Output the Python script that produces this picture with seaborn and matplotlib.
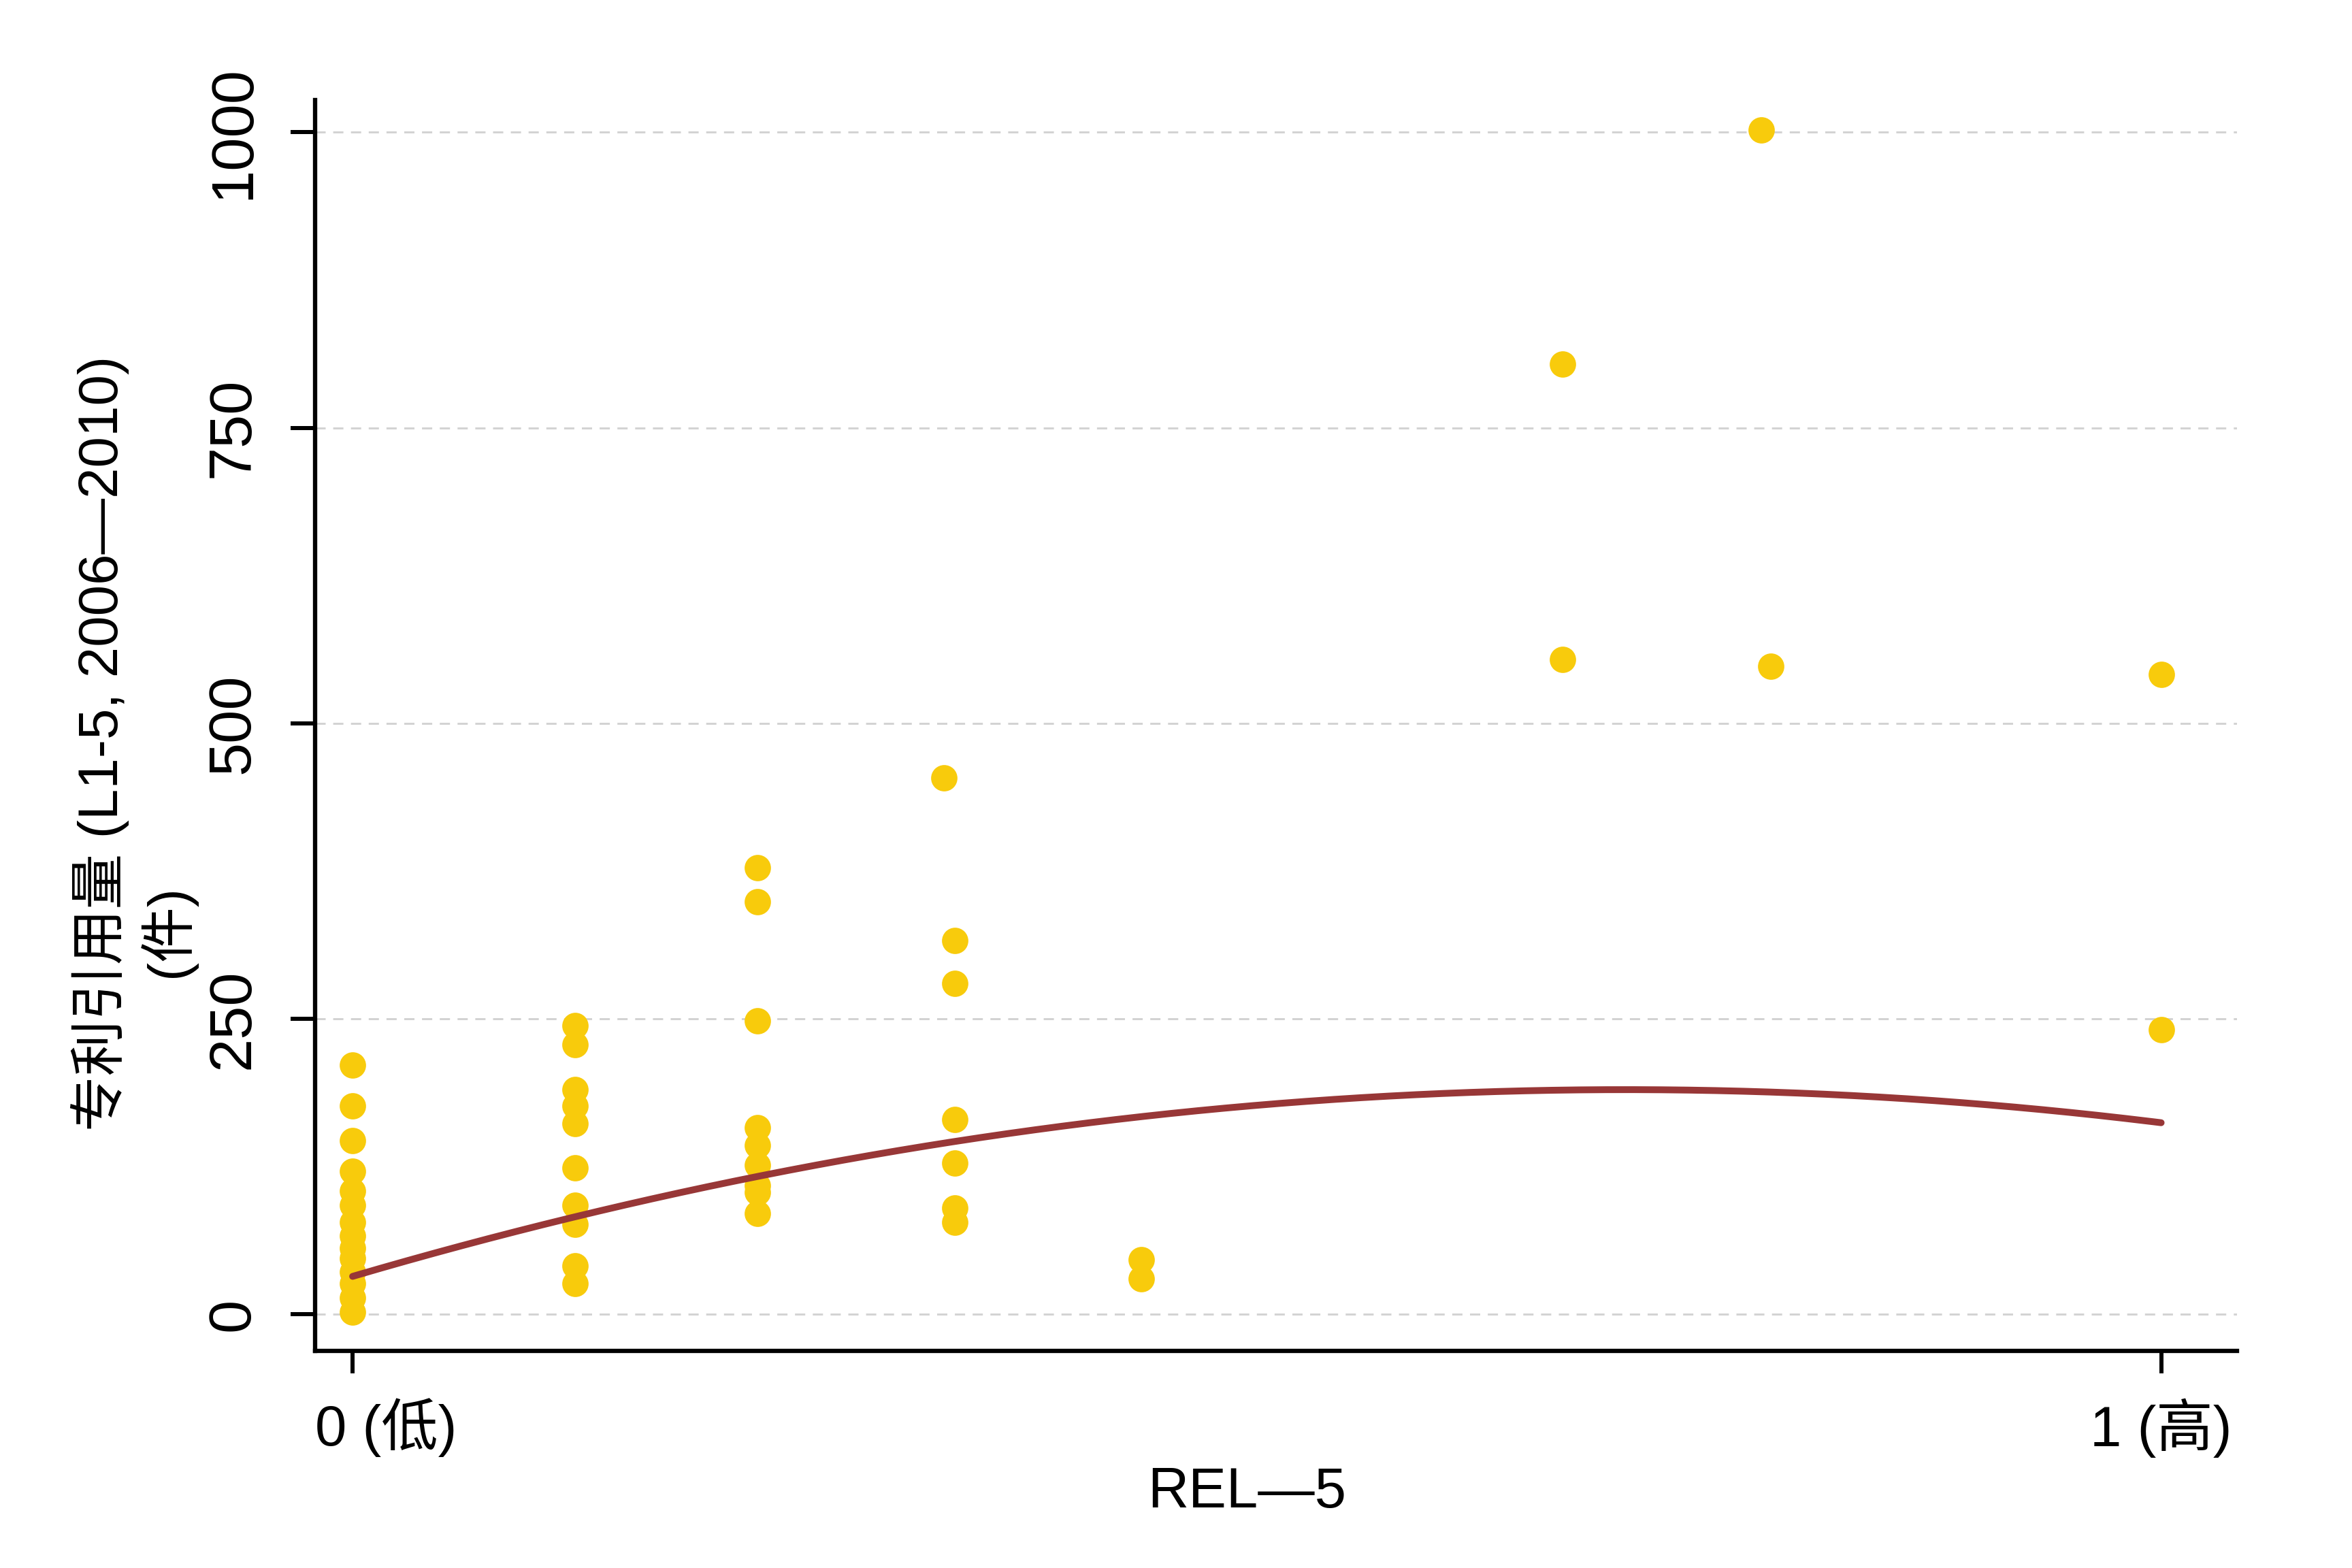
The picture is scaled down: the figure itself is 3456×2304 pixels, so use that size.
import numpy as np
import pandas as pd
import seaborn as sns
import matplotlib.pyplot as plt
import matplotlib.transforms as mtransforms

# REL-5 (0 = low, 1 = high) and patent citations
rel = [0] * 14 + [0.123] * 10 + [0.224] * 9 + [0.327] + [0.333] * 6 \
    + [0.436] * 2 + [0.669] * 2 + [0.779, 0.784] + [1.0] * 2
cites = [211, 176, 147, 121, 104, 92, 78, 66, 56, 47, 36, 26, 14, 2,
         244, 228, 190, 176, 161, 124, 92, 76, 41, 26,
         378, 349, 248, 158, 143, 126, 109, 103, 85,
         454,
         316, 280, 165, 128, 90, 78,
         46, 30,
         804, 554,
         1002, 548,
         541, 241]

# quadratic fit line (intercept, linear, squared), as drawn in the chart
fit_coef = [32, 449, -319]

y_ticks = [0, 250, 500, 750, 1000]
x_ticks = [0, 1]
x_ticklabels = ['0 (低)', '1 (高)']

df = pd.DataFrame({'rel': rel, 'cites': cites})
fit_x = np.linspace(0, 1, 200)
fit = pd.DataFrame({'rel': fit_x,
                    'cites': fit_coef[0] + fit_coef[1] * fit_x + fit_coef[2] * fit_x ** 2})

sns.set_style('white')
plt.rcParams['font.family'] = ['Liberation Sans', 'Noto Sans CJK SC', 'DejaVu Sans']
plt.rcParams['text.color'] = 'black'
plt.rcParams['axes.labelcolor'] = 'black'
plt.rcParams['xtick.color'] = 'black'
plt.rcParams['ytick.color'] = 'black'

fig = plt.figure(figsize=(14.4, 9.6), dpi=240)
ax = fig.add_axes([0.134, 0.1385, 0.817, 0.7975])

sns.scatterplot(data=df, x='rel', y='cites', ax=ax, color='#F8CB0C',
                s=135, linewidth=0, zorder=3)
sns.lineplot(data=fit, x='rel', y='cites', ax=ax, color='#983737',
             linewidth=3.0, zorder=4)

ax.set_xlim(-0.0207, 1.0418)
ax.set_ylim(-31, 1027)

ax.set_yticks(y_ticks)
ax.set_xticks(x_ticks)
ax.set_xticklabels(x_ticklabels)
ax.tick_params(axis='y', labelsize=26.5, length=10.8, width=1.8, pad=13,
               labelrotation=90, left=True)
ax.tick_params(axis='x', labelsize=25, length=9.9, width=1.8, pad=11, bottom=True)
for lab in ax.get_yticklabels():
    lab.set_va('center')

# first x label sits a bit to the right of its tick
off = mtransforms.ScaledTranslation(49 / 240, 0, fig.dpi_scale_trans)
lab0 = ax.get_xticklabels()[0]
lab0.set_transform(lab0.get_transform() + off)

for y in y_ticks:
    ax.axhline(y, color='#d3d3d3', linewidth=0.9, linestyle=(0, (5, 3.7)), zorder=1)

sns.despine(ax=ax)
for side in ['left', 'bottom']:
    ax.spines[side].set_linewidth(1.9)
    ax.spines[side].set_color('black')

ax.set_xlabel('REL—5', fontsize=25, va='center')
ax.xaxis.set_label_coords(0.485, -0.113)
ax.set_ylabel('专利引用量 (L1-5, 2006—2010)', fontsize=24.5, va='center')
ax.yaxis.set_label_coords(-0.112, 0.486)
ax.text(-0.077, 0.336, '(件)', transform=ax.transAxes, rotation=90,
        ha='center', va='center', fontsize=24.5)

fig.savefig('out.png', dpi=240, facecolor='white')
